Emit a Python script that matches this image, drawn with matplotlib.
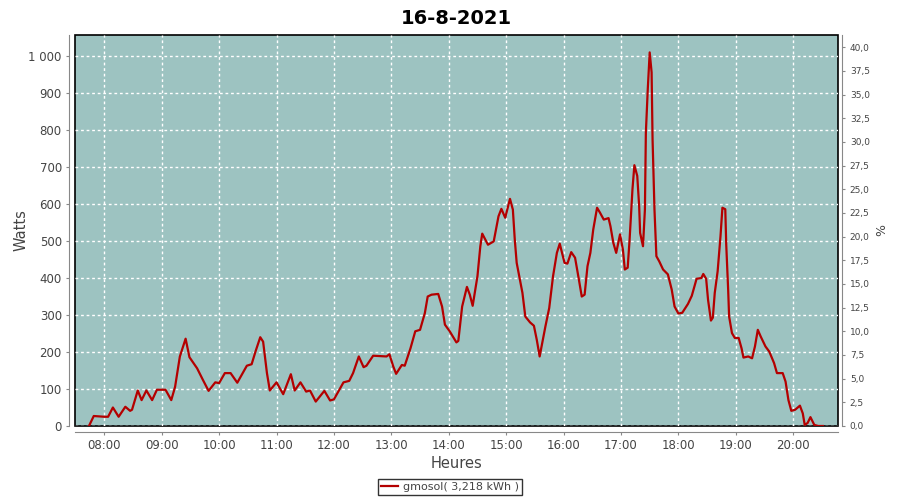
import matplotlib
matplotlib.use('Agg')
import matplotlib.pyplot as plt
from matplotlib.ticker import FuncFormatter, MultipleLocator

# Production gmosol du 16-8-2021 (lecture approximative du graphique)
heures = ['07:44', '07:49', '08:00', '08:04', '08:09', '08:15', '08:22', '08:27', '08:29', '08:35',
          '08:39', '08:44', '08:50', '08:55', '09:04', '09:10', '09:14', '09:19', '09:25', '09:29',
          '09:37', '09:43', '09:49', '09:56', '10:00', '10:06', '10:12', '10:19', '10:29', '10:34',
          '10:38', '10:43', '10:46', '10:50', '10:53', '11:00', '11:07', '11:15', '11:19', '11:25',
          '11:31', '11:35', '11:41', '11:50', '11:56', '12:00', '12:10', '12:16', '12:20', '12:26',
          '12:31', '12:34', '12:41', '12:55', '12:58', '13:02', '13:05', '13:11', '13:14', '13:20',
          '13:25', '13:30', '13:35', '13:38', '13:42', '13:49', '13:53', '13:56', '14:01', '14:08',
          '14:10', '14:14', '14:19', '14:22', '14:25', '14:30', '14:33', '14:35', '14:41', '14:47',
          '14:52', '14:55', '14:59', '15:04', '15:07', '15:09', '15:11', '15:14', '15:17', '15:20',
          '15:25', '15:29', '15:32', '15:35', '15:41', '15:45', '15:49', '15:53', '15:56', '16:01',
          '16:04', '16:08', '16:12', '16:16', '16:19', '16:22', '16:25', '16:28', '16:31', '16:35',
          '16:38', '16:42', '16:47', '16:49', '16:52', '16:55', '16:59', '17:02', '17:04', '17:07',
          '17:09', '17:12', '17:14', '17:17', '17:19', '17:20', '17:23', '17:25', '17:26', '17:28',
          '17:30', '17:32', '17:33', '17:35', '17:37', '17:40', '17:44', '17:49', '17:53', '17:56',
          '18:00', '18:04', '18:10', '18:14', '18:19', '18:24', '18:26', '18:29', '18:31', '18:34',
          '18:36', '18:38', '18:41', '18:44', '18:46', '18:49', '18:50', '18:52', '18:53', '18:56',
          '18:59', '19:03', '19:06', '19:08', '19:13', '19:17', '19:20', '19:23', '19:26', '19:31',
          '19:35', '19:40', '19:43', '19:49', '19:52', '19:55', '19:58', '20:02', '20:07', '20:10',
          '20:12', '20:15', '20:18', '20:22', '20:26', '20:31']
watts = [0, 27, 25, 25, 50, 25, 52, 41, 44, 96,
         70, 96, 70, 98, 98, 70, 106, 188, 236, 186,
         156, 125, 95, 118, 116, 143, 143, 117, 163, 167,
         201, 240, 228, 143, 96, 118, 86, 140, 96, 118,
         93, 96, 66, 95, 69, 72, 118, 122, 143, 188,
         159, 163, 190, 188, 194, 161, 141, 165, 163, 210,
         256, 260, 305, 350, 355, 357, 323, 274, 256, 226,
         230, 323, 376, 355, 325, 405, 486, 520, 490, 499,
         567, 587, 563, 614, 585, 504, 441, 400, 360, 296,
         280, 271, 233, 188, 269, 319, 405, 468, 493, 441,
         439, 470, 455, 396, 350, 355, 432, 468, 531, 590,
         577, 558, 562, 540, 495, 468, 518, 477, 423, 428,
         504, 640, 705, 676, 594, 522, 486, 585, 793, 911,
         1010, 956, 775, 585, 459, 445, 423, 410, 369, 323,
         304, 306, 330, 352, 398, 400, 411, 398, 341, 285,
         293, 360, 418, 513, 590, 586, 490, 369, 296, 251,
         238, 238, 210, 185, 188, 183, 215, 260, 242, 215,
         201, 170, 143, 143, 120, 70, 41, 44, 55, 34,
         3, 8, 24, 3, 0, 0]

titre = '16-8-2021'
legende = 'gmosol( 3,218 kWh )'
ticks_heures = list(range(8, 21))

x = [int(h[:2]) + int(h[3:]) / 60 for h in heures]

fond = '#9dc3c1'
rouge = '#b40000'
gris = '#888888'
texte = '#444444'

fig = plt.figure(figsize=(9, 5), dpi=100)
ax = fig.add_axes([75 / 900, 74 / 500, 763 / 900, 391 / 500])
ax.set_facecolor(fond)
ax.patch.set_edgecolor('black')
ax.patch.set_linewidth(1.2)

ligne, = ax.plot(x, watts, color=rouge, linewidth=1.6, label=legende, zorder=3)

ax.set_xlim(7.49, 20.78)
ax.set_ylim(0, 1057)
ax.set_xticks(ticks_heures)
ax.xaxis.set_major_formatter(FuncFormatter(lambda v, p: f'{int(round(v)):02d}:00'))
ax.yaxis.set_major_locator(MultipleLocator(100))
ax.yaxis.set_major_formatter(FuncFormatter(lambda v, p: f'{int(v):,}'.replace(',', ' ')))
ax.grid(True, color='white', linestyle=(0, (2, 2)), linewidth=1)
ax.set_axisbelow(True)

for s in ['top', 'right']:
    ax.spines[s].set_visible(False)
for s in ['left', 'bottom']:
    ax.spines[s].set_position(('outward', 4))
    ax.spines[s].set_color(gris)
ax.tick_params(axis='both', colors=gris, labelcolor=texte, labelsize=8.5, length=2)

ax.set_xlabel('Heures', fontsize=10.5, color=texte, labelpad=3)
ax.set_ylabel('Watts', fontsize=10.5, color=texte)
ax.yaxis.set_label_coords(-0.061, 0.5)
ax.set_title(titre, fontsize=14, fontweight='bold', pad=8)

ax2 = ax.twinx()
ax2.set_ylim(0, 41.3)
ax2.yaxis.set_major_locator(MultipleLocator(2.5))
ax2.yaxis.set_major_formatter(FuncFormatter(lambda v, p: f'{v:.1f}'.replace('.', ',')))
for s in ['top', 'left', 'bottom']:
    ax2.spines[s].set_visible(False)
ax2.spines['right'].set_position(('outward', 3))
ax2.spines['right'].set_color(gris)
ax2.tick_params(axis='y', colors=gris, labelcolor=texte, labelsize=6.5, length=2)
ax2.set_ylabel('%', fontsize=9, color=texte)
ax2.yaxis.set_label_coords(1.049, 0.5)

leg = fig.legend(handles=[ligne], loc='center', bbox_to_anchor=(0.5, 0.026),
                 fontsize=8, frameon=True, fancybox=False, edgecolor='black',
                 handlelength=1.5, handletextpad=0.4, borderpad=0.3)
leg.get_frame().set_linewidth(1)
for t in leg.get_texts():
    t.set_color(texte)

fig.savefig('out.png', dpi=100)
